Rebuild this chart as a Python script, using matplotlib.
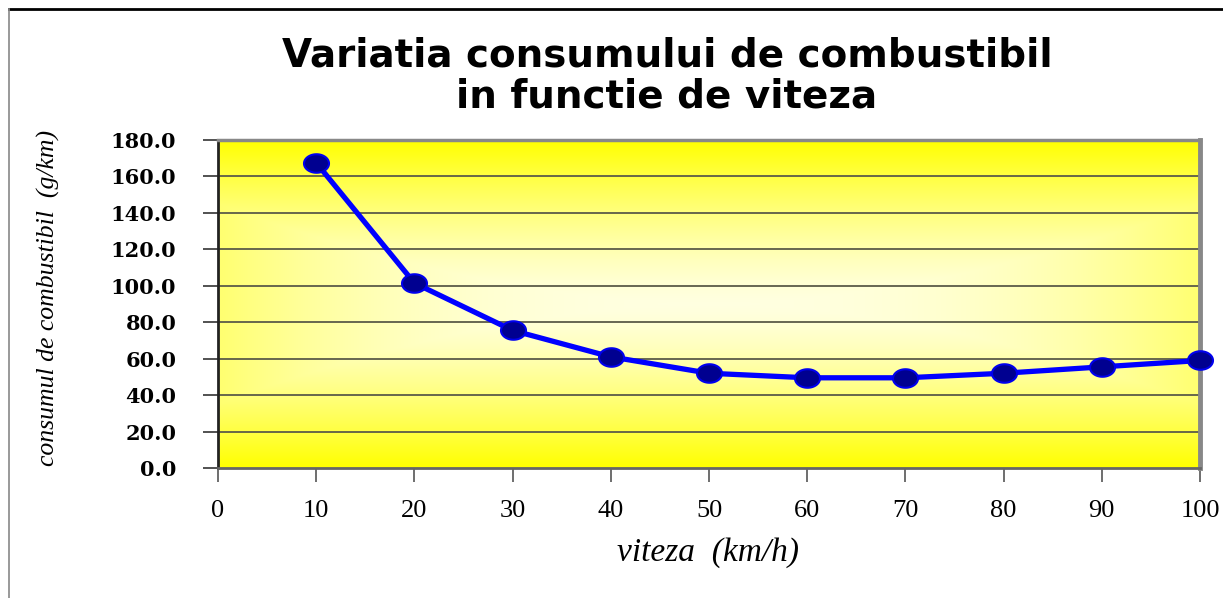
import numpy as np
import matplotlib.pyplot as plt
from matplotlib.path import Path

# data
viteza = [10, 20, 30, 40, 50, 60, 70, 80, 90, 100]
consum = [167.5, 101.5, 75.5, 61.0, 52.0, 49.5, 49.5, 52.0, 55.5, 59.0]

x_ticks = list(range(0, 101, 10))
y_ticks = list(range(0, 181, 20))

fig = plt.figure(figsize=(12.23, 5.98), dpi=100)
ax = fig.add_axes([218 / 1223, 1 - 468 / 598, (1200 - 218) / 1223, (468 - 140) / 598])

# yellow gradient background, pale in the middle
u = np.linspace(-1, 1, 300)
v = np.linspace(-1, 1, 200)
U, V = np.meshgrid(u, v)
t = np.clip(np.maximum(np.abs(V) ** 1.4, np.abs(U) ** 2.5 * 0.5), 0, 1)
pale = np.array([1.0, 1.0, 0.88])
bright = np.array([1.0, 1.0, 0.0])
img = pale[None, None, :] * (1 - t[..., None]) + bright[None, None, :] * t[..., None]
ax.imshow(img, extent=[0, 100, 0, 180], aspect='auto', zorder=0, interpolation='bilinear')

ax.set_xlim(0, 100)
ax.set_ylim(0, 180)

for yv in y_ticks[1:]:
    ax.axhline(yv, color='#5a5a48', lw=1.3, zorder=1)

# slightly flattened round marker
ang = np.linspace(0, 2 * np.pi, 60)
ellipse = Path(np.column_stack([1.35 * np.cos(ang), np.sin(ang)]), closed=True)

ax.plot(viteza, consum, color='#0000ff', lw=3.8, zorder=3,
        marker=ellipse, markersize=18, markerfacecolor='#000090',
        markeredgecolor='#0000ee', markeredgewidth=1.5, clip_on=False)

ax.set_xticks(x_ticks)
ax.set_yticks(y_ticks)
ax.set_xticklabels([str(x) for x in x_ticks], family='Liberation Serif', fontsize=19)
ax.set_yticklabels(['%.1f' % y for y in y_ticks], family='DejaVu Serif',
                   fontweight='bold', fontsize=15)
ax.tick_params(axis='x', direction='out', length=10, width=1.2, color='#555555', pad=13)
ax.tick_params(axis='y', direction='out', length=11, width=1.2, color='#333333', pad=19)

ax.spines['left'].set_color('#222222')
ax.spines['left'].set_linewidth(2)
ax.spines['bottom'].set_color('#666666')
ax.spines['bottom'].set_linewidth(2)
ax.spines['top'].set_color('#888888')
ax.spines['top'].set_linewidth(2.5)
ax.spines['right'].set_color('#888888')
ax.spines['right'].set_linewidth(3.5)

ax.set_xlabel('viteza  (km/h)', family='Liberation Serif', style='italic', fontsize=24)
ax.xaxis.set_label_coords((708 - 218) / 982, -(553 - 468) / 328)
ax.set_ylabel('consumul de combustibil  (g/km)', family='Liberation Serif',
              style='italic', fontsize=18.5)
ax.yaxis.set_label_coords((48 - 218) / 982, 0.52)
ax.xaxis.label.set_va('center')
ax.yaxis.label.set_va('center')

fig.text(667 / 1223, 1 - 76 / 598, 'Variatia consumului de combustibil\nin functie de viteza',
         ha='center', va='center', fontsize=28, fontweight='bold',
         family='DejaVu Sans', linespacing=1.1)

# outer frame of the slide
fig.add_artist(plt.Line2D([9 / 1223, 1], [1 - 9 / 598, 1 - 9 / 598], color='black', lw=2))
fig.add_artist(plt.Line2D([9 / 1223, 9 / 1223], [0, 1 - 9 / 598], color='#888888', lw=1.2))

fig.savefig('out.png', dpi=100)
